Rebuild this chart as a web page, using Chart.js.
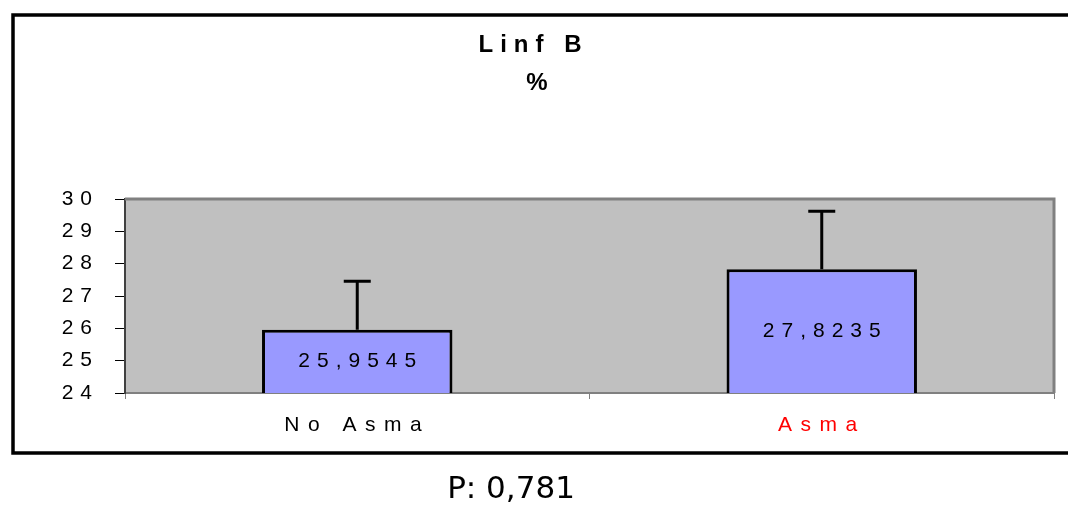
<!DOCTYPE html>
<html><head><meta charset="utf-8">
<script src="https://cdn.jsdelivr.net/npm/chart.js@4/dist/chart.umd.min.js"></script>
<style>html,body{margin:0;padding:0;background:#fff;overflow:hidden}#wrap{width:1068px;height:506px;position:relative}</style>
</head><body><div id="wrap"><canvas id="c" width="1068" height="506"></canvas></div>
<script>
const categories = ['No Asma', 'Asma'];
const means = [25.9545, 27.8235];
const errorsUp = [1.5, 1.8];
const valueLabels = ['25,9545', '27,8235'];
const yTicks = [24, 25, 26, 27, 28, 29, 30];
const categoryColors = ['#000000', '#FF0000'];
const titleLine1 = 'Linf B';
const titleLine2 = '%';
const pValueText = 'P: 0,781';

const FONT = "'Liberation Sans', Arial, sans-serif";
const axisSpacing = { x: '8.5px', y: '7px' };

function drawSpaced(ctx, text, x, y, font, spacing, color, align) {
  ctx.save();
  ctx.font = font;
  ctx.letterSpacing = spacing + 'px';
  ctx.fillStyle = color;
  ctx.textBaseline = 'middle';
  ctx.textAlign = 'left';
  const w = ctx.measureText(text).width - spacing;
  let sx = x;
  if (align === 'center') sx = x - w / 2;
  else if (align === 'right') sx = x - w;
  ctx.fillText(text, sx, y);
  ctx.restore();
}

const framePlugin = {
  id: 'frame',
  beforeDraw(chart) {
    const ctx = chart.ctx;
    ['x', 'y'].forEach(id => {
      const s = chart.scales[id];
      if (s && !s._spacedWrap) {
        const orig = s.drawLabels.bind(s);
        s.drawLabels = function (ca) {
          ctx.save();
          ctx.letterSpacing = axisSpacing[id];
          orig(ca);
          ctx.restore();
        };
        s._spacedWrap = true;
      }
    });
    ctx.save();
    ctx.fillStyle = '#fff';
    ctx.fillRect(0, 0, chart.width, chart.height);
    ctx.strokeStyle = '#000';
    ctx.lineWidth = 3.5;
    ctx.beginPath();
    ctx.moveTo(1068, 15); ctx.lineTo(13, 15); ctx.lineTo(13, 453); ctx.lineTo(1068, 453);
    ctx.stroke();
    const a = chart.chartArea;
    ctx.fillStyle = '#C0C0C0';
    ctx.fillRect(a.left, a.top, a.right - a.left, a.bottom - a.top);
    ctx.restore();
  },
  beforeDatasetsDraw(chart) {
    const ctx = chart.ctx;
    const a = chart.chartArea;
    ctx.save();
    ctx.strokeStyle = '#808080';
    ctx.lineWidth = 3;
    ctx.beginPath();
    ctx.moveTo(a.left, a.top); ctx.lineTo(a.right, a.top); ctx.lineTo(a.right, a.bottom);
    ctx.stroke();
    ctx.restore();
  },
  afterDatasetsDraw(chart) {
    const ctx = chart.ctx;
    const meta = chart.getDatasetMeta(0);
    const ys = chart.scales.y;
    ctx.save();
    ctx.strokeStyle = '#000';
    ctx.lineWidth = 3;
    meta.data.forEach((bar, i) => {
      const top = ys.getPixelForValue(means[i]);
      const eTop = ys.getPixelForValue(means[i] + errorsUp[i]);
      ctx.beginPath();
      ctx.moveTo(bar.x, top); ctx.lineTo(bar.x, eTop);
      ctx.moveTo(bar.x - 13.5, eTop); ctx.lineTo(bar.x + 13.5, eTop);
      ctx.stroke();
      const base = ys.getPixelForValue(ys.min);
      drawSpaced(ctx, valueLabels[i], bar.x, (top + base) / 2, '21px ' + FONT, 7, '#000', 'center');
    });
    ctx.restore();
  },
  afterDraw(chart) {
    const ctx = chart.ctx;
    drawSpaced(ctx, titleLine1, 530, 45, 'bold 24px ' + FONT, 7, '#000', 'center');
    drawSpaced(ctx, titleLine2, 537, 83, 'bold 24px ' + FONT, 0, '#000', 'center');
    ctx.save();
    ctx.font = "31px 'DejaVu Sans', Verdana, sans-serif";
    ctx.fillStyle = '#000';
    ctx.textAlign = 'center';
    ctx.textBaseline = 'alphabetic';
    ctx.fillText(pValueText, 511, 498);
    ctx.restore();
  }
};

new Chart(document.getElementById('c'), {
  type: 'bar',
  data: {
    labels: categories,
    datasets: [{
      data: means,
      backgroundColor: '#9999FF',
      borderColor: '#000000',
      borderWidth: 3,
      borderSkipped: false,
      barPercentage: 0.41,
      categoryPercentage: 1
    }]
  },
  options: {
    responsive: false,
    animation: false,
    events: [],
    layout: { padding: { left: 0, right: 14, top: 199, bottom: 0 } },
    plugins: { legend: { display: false }, title: { display: false }, tooltip: { enabled: false } },
    scales: {
      x: {
        grid: { drawOnChartArea: false, offset: true, tickLength: 6, color: '#808080', lineWidth: 1 },
        border: { color: '#808080', width: 2 },
        ticks: { color: (c) => categoryColors[c.index], font: { family: FONT, size: 21 }, padding: 14 },
        afterFit: (s) => { s.height = 113; }
      },
      y: {
        min: 24, max: 30,
        afterBuildTicks: (s) => { s.ticks = yTicks.map(v => ({ value: v })); },
        grid: { drawOnChartArea: false, tickLength: 10, color: '#000', lineWidth: 1 },
        border: { color: '#404040', width: 2 },
        ticks: { color: '#000', font: { family: FONT, size: 21 }, padding: 16 },
        afterFit: (s) => { s.width = 125; }
      }
    }
  },
  plugins: [framePlugin]
});
</script>
</body></html>
